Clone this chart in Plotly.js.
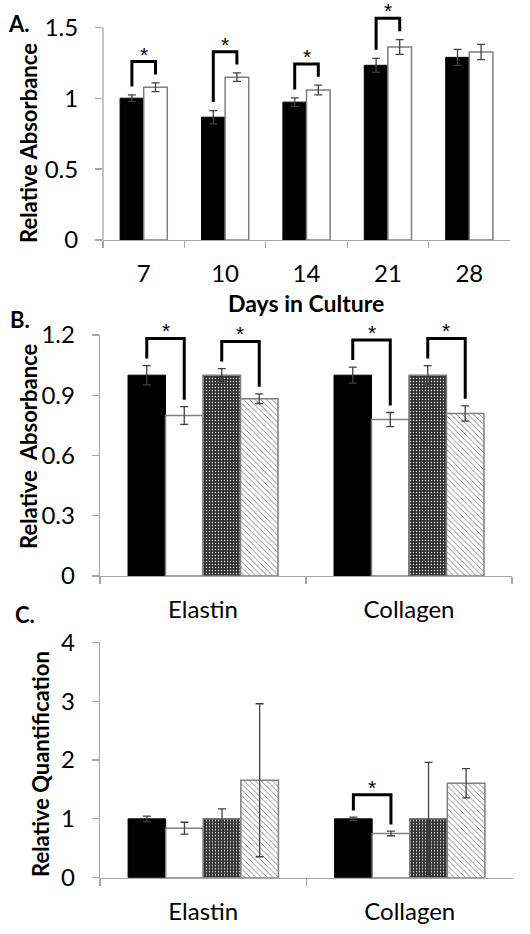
<!DOCTYPE html>
<html><head><meta charset="utf-8">
<script src="https://cdn.plot.ly/plotly-3.0.1.min.js"></script>
<style>html,body{margin:0;padding:0;background:#fff}</style>
</head><body><div id="chart" style="width:530px;height:934px"></div>
<script>
// ---------- Panel A data ----------
const dayLabels = ['7', '10', '14', '21', '28'];
const aBlack = [1.00, 0.866, 0.972, 1.232, 1.288];
const aBlackErr = [0.023, 0.047, 0.030, 0.049, 0.056];
const aWhite = [1.077, 1.148, 1.058, 1.361, 1.326];
const aWhiteErr = [0.031, 0.030, 0.034, 0.052, 0.054];
const aSignificantDays = ['7', '10', '14', '21'];
const aTicks = [0, 0.5, 1, 1.5];
const aTickText = ['0', '0.5', '1', '1.5'];

// ---------- Panel B data ----------
const matrixLabels = ['Elastin', 'Collagen'];
const bBlack = [1.0, 1.0];
const bBlackErr = [0.048, 0.040];
const bWhite = [0.799, 0.779];
const bWhiteErr = [0.044, 0.035];
const bDotted = [1.0, 1.0];
const bDottedErr = [0.033, 0.048];
const bHatched = [0.883, 0.809];
const bHatchedErr = [0.024, 0.038];
// significant pairs: [category, first series index, second series index]
const bSignificant = [['Elastin', 0, 1], ['Elastin', 2, 3], ['Collagen', 0, 1], ['Collagen', 2, 3]];

// ---------- Panel C data ----------
const cBlack = [1.0, 1.0];
const cBlackErr = [0.045, 0.030];
const cWhite = [0.842, 0.753];
const cWhiteErr = [0.100, 0.040];
const cDotted = [1.0, 1.0];
const cDottedErr = [0.170, 0.960];
const cHatched = [1.656, 1.605];
const cHatchedErr = [1.300, 0.250];
const cSignificant = [['Collagen', 0, 1]];

// ---------- layout helpers (pixels -> paper) ----------
const W = 530, H = 934;
const fx = p => p / W;
const fy = p => 1 - p / H;
const FONT = 'Lato, "Open Sans", sans-serif';
const AXC = '#a6a6a6';
const ERRC = '#404040';
const OUTC = '#7f7f7f';

const styles = [
  {color: 'black', line: {color: 'black', width: 1}},
  {color: 'white', line: {color: OUTC, width: 1.5}},
  {color: '#333333', line: {color: OUTC, width: 1.5},
   pattern: {shape: '.', bgcolor: '#303030', fgcolor: 'white', size: 3, solidity: 0.15, fillmode: 'replace'}},
  {color: 'white', line: {color: OUTC, width: 1.5},
   pattern: {shape: '\\', bgcolor: 'white', fgcolor: '#6a6a6a', size: 4, solidity: 0.2, fillmode: 'replace'}}
];

function barTrace(cats, vals, errs, style, width, offset, xa, ya) {
  return {
    type: 'bar', x: cats, y: vals, width: width, offset: offset,
    xaxis: xa, yaxis: ya, marker: style, hoverinfo: 'skip', showlegend: false,
    error_y: {type: 'data', array: errs, visible: true, color: ERRC, thickness: 1.3, width: 4}
  };
}

const traces = [];
// Panel A
const aW = 0.29;
traces.push(barTrace(dayLabels, aBlack, aBlackErr, styles[0], aW, -aW, 'x', 'y'));
traces.push(barTrace(dayLabels, aWhite, aWhiteErr, styles[1], aW, 0, 'x', 'y'));
// Panel B
const bW = 0.182;
const bSeries = [[bBlack, bBlackErr], [bWhite, bWhiteErr], [bDotted, bDottedErr], [bHatched, bHatchedErr]];
bSeries.forEach((s, k) => traces.push(barTrace(matrixLabels, s[0], s[1], styles[k], bW, -2 * bW + k * bW, 'x2', 'y2')));
// Panel C
const cSeries = [[cBlack, cBlackErr], [cWhite, cWhiteErr], [cDotted, cDottedErr], [cHatched, cHatchedErr]];
cSeries.forEach((s, k) => traces.push(barTrace(matrixLabels, s[0], s[1], styles[k], bW, -2 * bW + k * bW, 'x3', 'y3')));

// ---------- significance brackets ----------
const shapes = [];
const annotations = [];
function bracket(xa, ya, xl, xr, yl, yr, pad, rise) {
  const l = yl + pad, r = yr + pad, top = Math.max(l, r) + rise;
  shapes.push({type: 'path', xref: xa, yref: ya,
    path: `M ${xl} ${l} L ${xl} ${top} L ${xr} ${top} L ${xr} ${r}`,
    line: {color: 'black', width: 3}});
  annotations.push({xref: xa, yref: ya, x: (xl + xr) / 2, y: top, text: '*', showarrow: false,
    yanchor: 'bottom', yshift: -5, borderpad: 0,
    font: {family: '"Liberation Sans", Arial, sans-serif', size: 21, color: '#000000'}});
}
aSignificantDays.forEach(d => {
  const i = dayLabels.indexOf(d);
  bracket('x', 'y', i - aW / 2, i + aW / 2, aBlack[i] + aBlackErr[i], aWhite[i] + aWhiteErr[i], 0.06, 0.09);
});
bSignificant.forEach(([cat, s1, s2]) => {
  const i = matrixLabels.indexOf(cat);
  const x1 = i - 1.5 * bW + s1 * bW, x2 = i - 1.5 * bW + s2 * bW;
  bracket('x2', 'y2', x1, x2, bSeries[s1][0][i] + bSeries[s1][1][i], bSeries[s2][0][i] + bSeries[s2][1][i], 0.035, 0.1);
});
cSignificant.forEach(([cat, s1, s2]) => {
  const i = matrixLabels.indexOf(cat);
  const x1 = i - 1.5 * bW + s1 * bW, x2 = i - 1.5 * bW + s2 * bW;
  bracket('x3', 'y3', x1, x2, cSeries[s1][0][i] + cSeries[s1][1][i], cSeries[s2][0][i] + cSeries[s2][1][i], 0.11, 0.27);
});
// y axis line of panel A (stops at the top tick)
shapes.push({type: 'line', xref: 'x domain', yref: 'y', x0: 0, x1: 0, y0: 0, y1: aTicks[aTicks.length - 1],
  line: {color: AXC, width: 1.3}});

// ---------- titles / labels ----------
function label(text, px, py, size, bold, angle) {
  annotations.push({xref: 'paper', yref: 'paper', x: fx(px), y: fy(py), text: bold ? '<b>' + text + '</b>' : text,
    showarrow: false, xanchor: 'center', yanchor: 'middle', textangle: angle || 0,
    font: {family: FONT, size: size, color: 'black'}});
}
label('A.', 19, 24, 22, true);
label('B.', 20, 320, 22, true);
label('C.', 25, 614, 22, true);
label('Relative Absorbance', 28, 143, 22, true, -90);
label('Days in Culture', 306, 303, 23, true);
label('Relative\u00a0 Absorbance', 28, 447, 22, true, -90);
label('Relative Quantification', 40, 764, 22, true, -90);

const tickFont = {family: FONT, size: 24, color: 'black'};
function xAxis(dom, anchor) {
  return {domain: dom, anchor: anchor, type: 'category', tickson: 'boundaries', ticks: 'outside', ticklen: 7,
    tickcolor: AXC, tickwidth: 1.3, showline: true, linecolor: AXC, linewidth: 1.3, showgrid: false,
    zeroline: false, tickfont: tickFont, ticklabelstandoff: 12, fixedrange: true};
}
function yAxis(dom, anchor, range, extra) {
  return Object.assign({domain: dom, anchor: anchor, range: range, ticks: 'outside', ticklen: 7,
    tickcolor: AXC, tickwidth: 1.3, showline: true, linecolor: AXC, linewidth: 1.3, showgrid: false,
    zeroline: false, tickfont: tickFont, ticklabelstandoff: 12, fixedrange: true}, extra || {});
}
const aScale = (240 - 27.3) / 1.5;
const aTop = 1.6;
const layout = {
  width: W, height: H, margin: {l: 0, r: 0, t: 0, b: 0},
  paper_bgcolor: 'white', plot_bgcolor: 'white', showlegend: false, barmode: 'overlay',
  font: {family: FONT, color: 'black'},
  xaxis: xAxis([fx(103), fx(510)], 'y'),
  yaxis: yAxis([fy(240), fy(240 - aTop * aScale)], 'x', [0, aTop], {showline: false, tickvals: aTicks, ticktext: aTickText}),
  xaxis2: xAxis([fx(100), fx(512)], 'y2'),
  yaxis2: yAxis([fy(576), fy(335)], 'x2', [0, 1.2], {tick0: 0, dtick: 0.3}),
  xaxis3: xAxis([fx(100), fx(513)], 'y3'),
  yaxis3: yAxis([fy(877.7), fy(642.3)], 'x3', [0, 4], {tick0: 0, dtick: 1}),
  shapes: shapes, annotations: annotations
};
Plotly.newPlot('chart', traces, layout, {staticPlot: true, displayModeBar: false});
</script></body></html>
